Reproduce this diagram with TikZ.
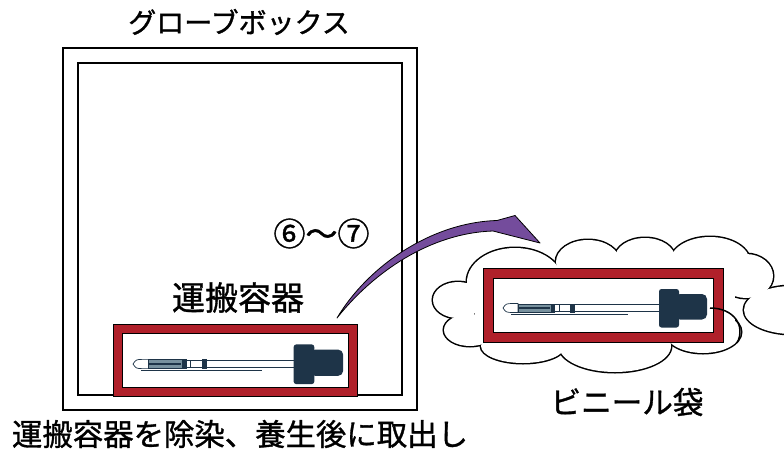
\documentclass[tikz,border=0pt]{standalone}
\usepackage{fontspec}
\newfontfamily\jp{Noto Sans CJK JP}[FakeBold=1.1]
\definecolor{boxred}{RGB}{176,32,42}
\definecolor{arrowpurple}{RGB}{116,76,156}
\definecolor{navy}{RGB}{30,52,72}
\definecolor{steel}{RGB}{120,145,158}
\newcommand\jpsize[1]{\jp\fontsize{#1}{#1}\selectfont}
\tikzset{
  jptext/.style={inner sep=0pt, text=black},
  gbline/.style={draw=black, line width=2.6pt},
  redframe/.style={fill=boxred, draw=black, line width=0.6pt},
  whitein/.style={fill=white, draw=black, line width=0.6pt},
  bagline/.style={draw=black, line width=3pt},
  dropper/.pic={
    % glass tube and its shadow line
    \draw[navy, line width=0.6pt, fill=white] (15,-3.4) rectangle (158,3.4);
    \draw[navy, line width=0.6pt] (8,5.8) -- (125,5.8);
    % rounded tip
    \draw[navy, fill=white, line width=0.7pt]
      (0,0) .. controls (3,-4.3) .. (9,-4.5) -- (15,-4.5) -- (15,4.5) -- (9,4.5)
      .. controls (3,4.3) .. (0,0) -- cycle;
    % graduated section
    \draw[navy, fill=steel, line width=0.9pt] (15,-4) rectangle (48,4);
    \draw[navy, line width=1.2pt] (16,0) -- (47,0);
    \fill[navy] (48,-4.5) rectangle (52,4.5);
    \draw[navy, line width=0.7pt] (56,-3.4) -- (56,3.4);
    \fill[navy] (67,-4.5) rectangle (72,4.5);
    % rubber collar and bulb
    \fill[navy, rounded corners=2.5pt] (156,-19) rectangle (176,19.5);
    \fill[navy, rounded corners=5pt] (172,-14) rectangle (204,11.5);
  }
}
\begin{document}
\begin{tikzpicture}[x=1pt, y=-1pt]
\useasboundingbox (0,0) rectangle (784,453);

% glove box: double wall
\draw[gbline] (63,48) rectangle (417,410);
\draw[gbline] (78,63) rectangle (402,395);

% transport container inside the glove box
\draw[redframe] (113,324) rectangle (357,396);
\draw[whitein] (122,333) rectangle (348,387);
\pic[scale=1.03] at (133,364) {dropper};

% vinyl bag: outline of the lobes, then the inside blanked out
\begin{scope}
  \foreach \cx/\cy/\rx/\ry in {458/300/25/18, 470/330/26/16, 523/346/42/17,
      615/346/56/26, 703/332/38/21, 792/310/48/24, 746/276/27/22,
      710/262/40/25, 645/258/30/20, 588/262/32/22, 515/282/48/34}
    \draw[bagline] (\cx,\cy) ellipse[x radius=\rx, y radius=\ry];
  \foreach \cx/\cy/\rx/\ry in {458/300/25/18, 470/330/26/16, 523/346/42/17,
      615/346/56/26, 703/332/38/21, 792/310/48/24, 746/276/27/22,
      710/262/40/25, 645/258/30/20, 588/262/32/22, 515/282/48/34}
    \fill[white] (\cx,\cy) ellipse[x radius=\rx, y radius=\ry];
  \fill[white] (475,272) rectangle (735,340);
\end{scope}

% container wrapped in the bag
\draw[redframe] (483,268) rectangle (723,342);
\draw[whitein] (493,278) rectangle (713,332);
\pic at (503,308) {dropper};
% twist of the bag over the container edge
\draw[black, line width=1.5pt] (710,308) .. controls (734,308) and (746,326) .. (737,343);

% transfer arrow
\coordinate (arrowtail) at (337,318);
\coordinate (arrowtip) at (540,243);
\filldraw[fill=arrowpurple, draw=black, line width=0.8pt, line join=round]
  (arrowtail) .. controls (367,267.5) and (430,222.5) .. (497,220.5)
  -- (515,215.5) -- (arrowtip) -- (493,231)
  .. controls (430,233) and (373,272.5) .. (arrowtail) -- cycle;

% labels
\node[jptext, font=\jpsize{28}] (gbtitle) at (239,22) {グローブボックス};
\node[jptext, font=\jpsize{32}] (steps) at (321.5,233.5) {⑥～⑦};
\node[jptext, font=\jpsize{33}] (container) at (238,297.5) {運搬容器};
\node[jptext, font=\jpsize{30.6}] (baglabel) at (627,402) {ビニール袋};
\node[jptext, font=\jpsize{30.4}] (caption) at (240,434) {運搬容器を除染、養生後に取出し};
\end{tikzpicture}
\end{document}
